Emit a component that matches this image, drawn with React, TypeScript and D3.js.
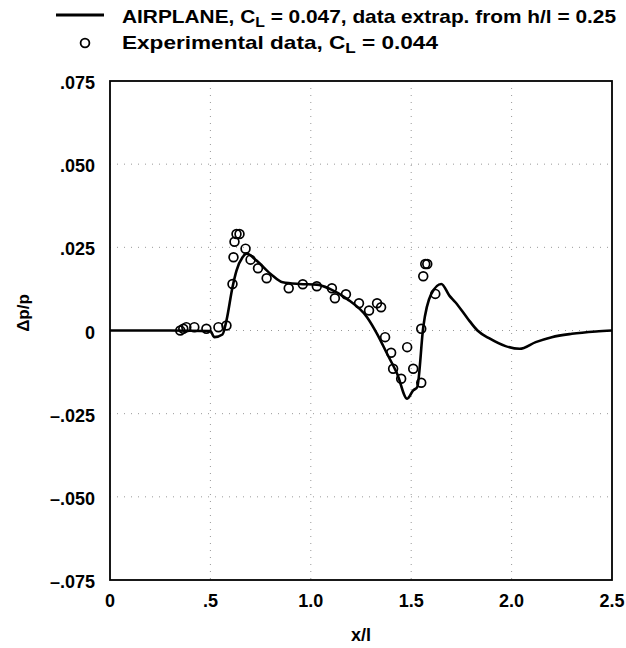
import React from "react";
import * as d3 from "d3";

const lineX = [0, 0.3, 0.5, 0.52, 0.56, 0.58, 0.61, 0.63, 0.66, 0.68, 0.73, 0.8, 0.86, 0.945, 1.03, 1.095, 1.18, 1.28, 1.33, 1.38, 1.43, 1.48, 1.51, 1.53, 1.56, 1.6, 1.65, 1.69, 1.72, 1.78, 1.83, 1.89, 1.97, 2.04, 2.12, 2.2, 2.3, 2.42, 2.5];
const lineY = [0, 0, -0.0002, -0.002, -0.0012, 0.003, 0.013, 0.018, 0.022, 0.0231, 0.021, 0.017, 0.0145, 0.014, 0.0138, 0.0125, 0.0095, 0.004, -0.001, -0.007, -0.013, -0.0205, -0.018, -0.017, 0.001, 0.011, 0.014, 0.0105, 0.0085, 0.0037, 0, -0.0024, -0.0047, -0.0055, -0.0035, -0.002, -0.001, -0.0003, 0];

const expX = [0.35, 0.365, 0.38, 0.42, 0.48, 0.54, 0.58, 0.61, 0.615, 0.62, 0.63, 0.645, 0.675, 0.7, 0.737, 0.78, 0.89, 0.96, 1.03, 1.105, 1.12, 1.175, 1.24, 1.29, 1.33, 1.35, 1.37, 1.4, 1.41, 1.45, 1.48, 1.51, 1.55, 1.55, 1.56, 1.57, 1.58, 1.62];
const expY = [0, 0.0005, 0.001, 0.001, 0.0005, 0.001, 0.0015, 0.014, 0.022, 0.0267, 0.029, 0.029, 0.0246, 0.0213, 0.0187, 0.0157, 0.0127, 0.0139, 0.0133, 0.0127, 0.0097, 0.0109, 0.0082, 0.006, 0.0082, 0.007, -0.002, -0.0067, -0.0115, -0.0145, -0.005, -0.0115, -0.0157, 0.0005, 0.0163, 0.02, 0.02, 0.011];

const xTicks = [0, 0.5, 1.0, 1.5, 2.0, 2.5];
const xTickLabels = ["0", ".5", "1.0", "1.5", "2.0", "2.5"];
const yTicks = [0.075, 0.05, 0.025, 0, -0.025, -0.05, -0.075];
const yTickLabels = [".075", ".050", ".025", "0", "\u2013.025", "\u2013.050", "\u2013.075"];

const FONT = "'Liberation Sans', Arial, Helvetica, sans-serif";

export default function App() {
  const W = 626, H = 648;
  const x = d3.scaleLinear().domain([0, 2.5]).range([110, 612]);
  const y = d3.scaleLinear().domain([-0.075, 0.075]).range([580, 81]);
  const pts = lineX.map((v, i) => [v, lineY[i]] as [number, number]);
  const line = d3.line<[number, number]>().x(d => x(d[0])).y(d => y(d[1])).curve(d3.curveMonotoneX);
  const [x0, x1] = x.range();
  const [yb, yt] = y.range();
  return (
    <svg width={W} height={H} style={{ position: "absolute", left: 0, top: 0, background: "#fff" }} fontFamily={FONT}>
      <rect width={W} height={H} fill="#fff" />
      {xTicks.slice(1, -1).map((t, i) => (
        <line key={"gx" + i} x1={x(t)} x2={x(t)} y1={yt} y2={yb} stroke="#999" strokeWidth={1} strokeDasharray="1,6" />
      ))}
      {yTicks.slice(1, -1).map((t, i) => (
        <line key={"gy" + i} x1={x0} x2={x1} y1={y(t)} y2={y(t)} stroke="#999" strokeWidth={1} strokeDasharray="1,6" />
      ))}
      <rect x={x0} y={yt} width={x1 - x0} height={yb - yt} fill="none" stroke="#000" strokeWidth={1.8} />
      <path d={line(pts) || ""} fill="none" stroke="#000" strokeWidth={2.6} strokeLinejoin="round" />
      {expX.map((v, i) => (
        <circle key={"c" + i} cx={x(v)} cy={y(expY[i])} r={4.4} fill="none" stroke="#000" strokeWidth={1.7} />
      ))}
      {xTicks.map((t, i) => (
        <text key={"xl" + i} x={x(t)} y={607} textAnchor="middle" fontSize={18} fontWeight="bold">{xTickLabels[i]}</text>
      ))}
      {yTicks.map((t, i) => (
        <text key={"yl" + i} x={95} y={y(t) + 8} textAnchor="end" fontSize={18} fontWeight="bold">{yTickLabels[i]}</text>
      ))}
      <text x={361} y={641} textAnchor="middle" fontSize={18} fontWeight="bold">x/l</text>
      <text transform="translate(29,313) rotate(-90)" textAnchor="middle" fontSize={17} fontWeight="bold">Δp/p</text>
      <line x1={56} x2={104} y1={15} y2={15} stroke="#000" strokeWidth={2.8} />
      <text x={122} y={23} fontSize={18.5} fontWeight="bold" textLength={494} lengthAdjust="spacingAndGlyphs">
        AIRPLANE, C<tspan dy={3.5} fontSize={14}>L</tspan><tspan dy={-3.5}> = 0.047, data extrap. from h/l = 0.25</tspan>
      </text>
      <circle cx={85} cy={43} r={4.4} fill="none" stroke="#000" strokeWidth={1.8} />
      <text x={122} y={49} fontSize={18.5} fontWeight="bold" textLength={316} lengthAdjust="spacingAndGlyphs">
        Experimental data, C<tspan dy={3.5} fontSize={14}>L</tspan><tspan dy={-3.5}> = 0.044</tspan>
      </text>
    </svg>
  );
}
